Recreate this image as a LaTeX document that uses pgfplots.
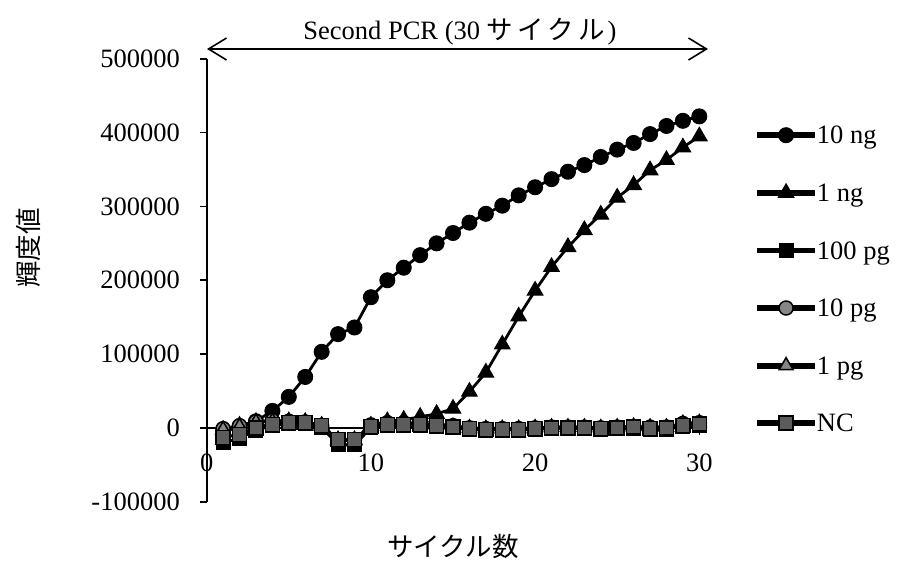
\documentclass[border=0pt]{standalone}
\usepackage{pgfplots}
\pgfplotsset{compat=1.18}
\usepackage{pgfplotstable}
\usepackage{fontspec}
\setmainfont{Liberation Serif}
\newfontfamily\jp{Noto Sans CJK JP}
\usetikzlibrary{arrows.meta}
\definecolor{gA}{HTML}{858585}
\definecolor{gB}{HTML}{5C5C5C}

\pgfplotstableread{
c ngten ngone pgh pgten pgone nc
1 -4000 -3000 -20000 -1000 -2000 -13000
2 2000 3000 -14000 3000 2000 -9000
3 9000 8000 -3000 8500 8000 0
4 23000 10000 3000 10000 9000 4500
5 42000 9000 6000 9000 9000 7000
6 69000 8000 6000 8000 8000 7600
7 103000 3000 1000 3000 3000 3000
8 127000 -17000 -23000 -16000 -16000 -16000
9 136000 -17000 -23000 -16000 -16000 -16000
10 177000 3000 0 4000 3000 1800
11 200000 9000 3000 7000 6000 4500
12 217000 11000 3000 7000 6000 4500
13 234000 15000 3000 6000 5000 4500
14 250000 19000 2000 5000 4000 3000
15 264000 26000 0 3000 2000 1500
16 278000 49000 -2000 0 0 -1000
17 290000 75000 -3000 -1000 -1000 -2000
18 301000 113000 -3000 -1000 -1000 -2000
19 315000 151000 -3000 -1000 -1000 -2000
20 326000 186000 -2000 0 0 -1000
21 337000 218000 -1000 1000 1000 0
22 347000 245000 -1000 1000 1000 0
23 356000 268000 -1000 1000 1000 0
24 367000 289000 -2000 0 0 -1000
25 377000 312000 -1000 1000 1000 0
26 386000 329000 -1000 2000 2000 1000
27 398000 349000 -2000 1000 1000 -1000
28 409000 363000 -2000 1000 1000 0
29 416000 380000 2000 6000 6000 3000
30 422000 395000 3000 7000 7000 5000
}\data

\begin{document}
\fontsize{26.5}{32}\selectfont
\begin{tikzpicture}
\path[use as bounding box] (0,0) rectangle (899pt,565pt);
\begin{axis}[
 at={(206.7pt,63.3pt)}, anchor=south west,
 scale only axis, width=492.6pt, height=442.9pt,
 xmin=0, xmax=30, ymin=-100000, ymax=500000,
 axis x line=middle, axis y line=left,
 axis line style={-, line width=1.6pt, black},
 xtick={0,10,20,30}, xticklabels={0,10,20,30},
 ytick={-100000,0,100000,200000,300000,400000,500000},
 yticklabels={-100000,0,100000,200000,300000,400000,500000},
 scaled y ticks=false,
 hide obscured x ticks=false, hide obscured y ticks=false,
 tick style={line width=1.6pt, black},
 major tick length=7pt,
 tick align=outside,
 xticklabel style={anchor=north, inner sep=0pt, yshift=-18.7pt},
 yticklabel style={anchor=east, inner sep=0pt, xshift=-19.7pt},
 clip=false,
 legend image code/.code={%
   \fill[black] (0pt,-1.5pt) rectangle (55pt,1.5pt);
   \path[mark repeat=2, mark phase=2] plot coordinates {(0pt,0pt) (27.5pt,0pt) (55pt,0pt)};},
 legend style={at={(1.1171,0.8522)}, anchor=north west, draw=none, fill=none,
   inner xsep=0pt, inner ysep=0pt, row sep=36.1pt,
   nodes={inner sep=2pt, text height=17.5pt, text depth=0pt},
   cells={anchor=west}},
 legend cell align=left,
]
\addplot[black, line width=2.8pt, mark=*, mark size=7.5pt, mark options={solid, fill=black, draw=black, line width=1pt}] table[x=c, y=ngten] {\data};
\addlegendentry{10 ng}
\addplot[black, line width=2.8pt, mark=triangle*, mark size=9pt, mark options={solid, fill=black, draw=black, line width=1pt}] table[x=c, y=ngone] {\data};
\addlegendentry{1 ng}
\addplot[black, line width=2.8pt, mark=square*, mark size=7pt, mark options={solid, fill=black, draw=black, line width=1pt}] table[x=c, y=pgh] {\data};
\addlegendentry{100 pg}
\addplot[black, line width=2.8pt, mark=*, mark size=7pt, mark options={solid, fill=gA, draw=black, line width=1.5pt}] table[x=c, y=pgten] {\data};
\addlegendentry{10 pg}
\addplot[black, line width=2.8pt, mark=triangle*, mark size=8pt, mark options={solid, fill=gA, draw=black, line width=1.5pt}] table[x=c, y=pgone] {\data};
\addlegendentry{1 pg}
\addplot[black, line width=2.8pt, mark=square*, mark size=7pt, mark options={solid, fill=gB, draw=black, line width=1.5pt}] table[x=c, y=nc] {\data};
\addlegendentry{NC}
\end{axis}
\draw[line width=1.6pt, {Straight Barb[length=18pt,width=22pt]}-{Straight Barb[length=18pt,width=22pt]}] (207pt,516pt) -- (708pt,516pt);
\node[anchor=base, inner sep=0pt] at (460pt,525pt) {Second PCR (30 {\jp サ\kern4ptイ\kern4ptク\kern4ptル}\kern3pt)};
\node[inner sep=0pt] at (453pt,19pt) {\jp サイクル数};
\node[rotate=90, inner sep=0pt] at (28pt,317pt) {\jp 輝度値};
\end{tikzpicture}
\end{document}
